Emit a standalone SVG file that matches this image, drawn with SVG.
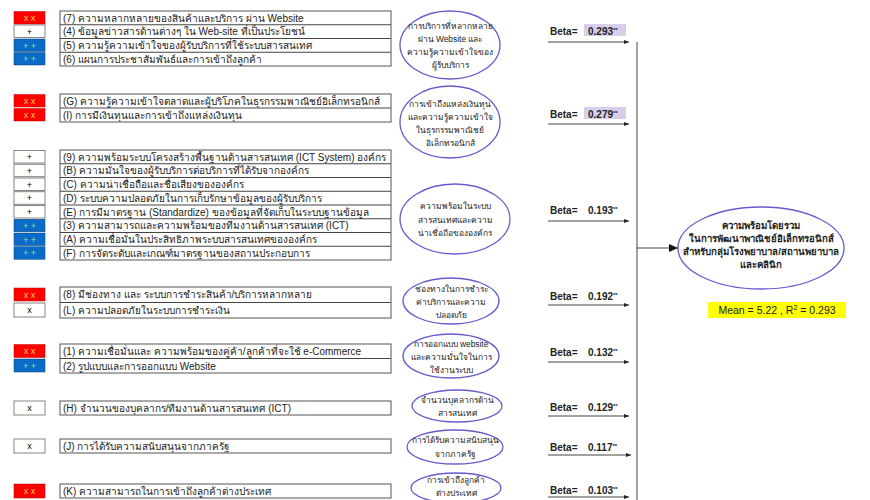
<svg xmlns="http://www.w3.org/2000/svg" width="870" height="500" viewBox="0 0 870 500">
<defs>
<style>
.t{font-family:"Liberation Sans","Noto Sans",sans-serif;font-size:10px;fill:#222}
.tb{font-family:"Liberation Sans","Noto Sans",sans-serif;font-size:10px;fill:#222;font-weight:bold}
.m{font-family:"Liberation Sans",sans-serif;font-size:9px;text-anchor:middle}
.box{fill:#fff;stroke:#555;stroke-width:1}
.red{fill:#ff0000;stroke:#b00;stroke-width:0.5}
.blue{fill:#0a6cc8;stroke:#05407a;stroke-width:0.5}
.wht{fill:#fff;stroke:#666;stroke-width:0.8}
.el{fill:#fff;stroke:#6a5acd;stroke-width:1.3}
.ec{font-family:"Liberation Sans","Noto Sans",sans-serif;font-size:8.4px;text-anchor:middle;fill:#222}
.ecb{font-family:"Liberation Sans","Noto Sans",sans-serif;font-size:9.6px;text-anchor:middle;fill:#222;font-weight:bold}
.ln{stroke:#444;stroke-width:1;fill:none}
</style>
<marker id="ah" markerWidth="6" markerHeight="6" refX="5" refY="3" orient="auto" markerUnits="userSpaceOnUse"><path d="M0,1 L5,3 L0,5 z" fill="#222"/></marker>
<marker id="ah2" markerWidth="10" markerHeight="10" refX="9" refY="5" orient="auto" markerUnits="userSpaceOnUse"><path d="M0,1 L9,5 L0,9 z" fill="#111"/></marker>
</defs>

<!-- Group 1 -->
<g id="g1">
<rect class="red" x="14" y="11.5" width="31" height="12.5"/><text class="m" x="29.5" y="21" fill="#ffd040">x x</text>
<rect class="wht" x="14" y="25" width="31" height="12.5"/><text class="m" x="29.5" y="34.5" fill="#000">+</text>
<rect class="blue" x="14" y="39" width="31" height="12.5"/><text class="m" x="29.5" y="48.5" fill="#9fe080">+ +</text>
<rect class="blue" x="14" y="52.5" width="31" height="12.5"/><text class="m" x="29.5" y="62" fill="#9fe080">+ +</text>
<rect class="box" x="60" y="11" width="331" height="55"/>
<line class="ln" x1="60" y1="24.75" x2="391" y2="24.75"/><line class="ln" x1="60" y1="38.5" x2="391" y2="38.5"/><line class="ln" x1="60" y1="52.25" x2="391" y2="52.25"/>
<text class="t" x="63" y="21.5">(7) ความหลากหลายของสินค้าและบริการ ผ่าน Website</text>
<text class="t" x="63" y="35">(4) ข้อมูลข่าวสารด้านต่างๆ ใน Web-site ที่เป็นประโยชน์</text>
<text class="t" x="63" y="49">(5) ความรู้ความเข้าใจของผู้รับบริการที่ใช้ระบบสารสนเทศ</text>
<text class="t" x="63" y="62.5">(6) แผนการประชาสัมพันธ์และการเข้าถึงลูกค้า</text>
</g>

<!-- Group 2 -->
<g id="g2">
<rect class="red" x="14" y="94.5" width="31" height="12.5"/><text class="m" x="29.5" y="104" fill="#ffd040">x x</text>
<rect class="red" x="14" y="108.5" width="31" height="12.5"/><text class="m" x="29.5" y="118" fill="#ffd040">x x</text>
<rect class="box" x="60" y="94" width="331" height="28"/>
<line class="ln" x1="60" y1="108" x2="391" y2="108"/>
<text class="t" x="63" y="104.5">(G) ความรู้ความเข้าใจตลาดและผู้บริโภคในธุรกรรมพาณิชย์อิเล็กทรอนิกส์</text>
<text class="t" x="63" y="118.5">(I) การมีเงินทุนและการเข้าถึงแหล่งเงินทุน</text>
</g>

<!-- Group 3 -->
<g id="g3">
<rect class="wht" x="14" y="150.5" width="31" height="12.5"/><text class="m" x="29.5" y="160" fill="#000">+</text>
<rect class="wht" x="14" y="164.25" width="31" height="12.5"/><text class="m" x="29.5" y="173.75" fill="#000">+</text>
<rect class="wht" x="14" y="178" width="31" height="12.5"/><text class="m" x="29.5" y="187.5" fill="#000">+</text>
<rect class="wht" x="14" y="191.75" width="31" height="12.5"/><text class="m" x="29.5" y="201.25" fill="#000">+</text>
<rect class="wht" x="14" y="205.5" width="31" height="12.5"/><text class="m" x="29.5" y="215" fill="#000">+</text>
<rect class="blue" x="14" y="219.25" width="31" height="12.5"/><text class="m" x="29.5" y="228.75" fill="#9fe080">+ +</text>
<rect class="blue" x="14" y="233" width="31" height="12.5"/><text class="m" x="29.5" y="242.5" fill="#9fe080">+ +</text>
<rect class="blue" x="14" y="246.75" width="31" height="12.5"/><text class="m" x="29.5" y="256.25" fill="#9fe080">+ +</text>
<rect class="box" x="60" y="150" width="331" height="110"/>
<line class="ln" x1="60" y1="163.75" x2="391" y2="163.75"/><line class="ln" x1="60" y1="177.5" x2="391" y2="177.5"/><line class="ln" x1="60" y1="191.25" x2="391" y2="191.25"/><line class="ln" x1="60" y1="205" x2="391" y2="205"/><line class="ln" x1="60" y1="218.75" x2="391" y2="218.75"/><line class="ln" x1="60" y1="232.5" x2="391" y2="232.5"/><line class="ln" x1="60" y1="246.25" x2="391" y2="246.25"/>
<text class="t" x="63" y="160.5">(9) ความพร้อมระบบโครงสร้างพื้นฐานด้านสารสนเทศ (ICT System) องค์กร</text>
<text class="t" x="63" y="174.25">(B) ความมั่นใจของผู้รับบริการต่อบริการที่ได้รับจากองค์กร</text>
<text class="t" x="63" y="188">(C) ความน่าเชื่อถือและชื่อเสียงขององค์กร</text>
<text class="t" x="63" y="201.75">(D) ระบบความปลอดภัยในการเก็บรักษาข้อมูลของผู้รับบริการ</text>
<text class="t" x="63" y="215.5">(E) การมีมาตรฐาน (Standardize) ของข้อมูลที่จัดเก็บในระบบฐานข้อมูล</text>
<text class="t" x="63" y="229.25">(3) ความสามารถและความพร้อมของทีมงานด้านสารสนเทศ (ICT)</text>
<text class="t" x="63" y="243">(A) ความเชื่อมั่นในประสิทธิภาพระบบสารสนเทศขององค์กร</text>
<text class="t" x="63" y="256.75">(F) การจัดระดับและเกณฑ์มาตรฐานของสถานประกอบการ</text>
</g>

<!-- Group 4 -->
<g id="g4">
<rect class="red" x="14" y="288" width="31" height="13"/><text class="m" x="29.5" y="297.5" fill="#ffd040">x x</text>
<rect class="wht" x="14" y="303" width="31" height="14"/><text class="m" x="29.5" y="313" fill="#000">x</text>
<rect class="box" x="60" y="287" width="331" height="31"/>
<line class="ln" x1="60" y1="302.5" x2="391" y2="302.5"/>
<text class="t" x="63" y="298">(8) มีช่องทาง และ ระบบการชำระสินค้า/บริการหลากหลาย</text>
<text class="t" x="63" y="313.5">(L) ความปลอดภัยในระบบการชำระเงิน</text>
</g>

<!-- Group 5 -->
<g id="g5">
<rect class="red" x="14" y="344.5" width="31" height="13"/><text class="m" x="29.5" y="354" fill="#ffd040">x x</text>
<rect class="blue" x="14" y="359" width="31" height="13"/><text class="m" x="29.5" y="368.5" fill="#9fe080">+ +</text>
<rect class="box" x="60" y="344" width="331" height="29"/>
<line class="ln" x1="60" y1="358.5" x2="391" y2="358.5"/>
<text class="t" x="63" y="355">(1) ความเชื่อมั่นและ ความพร้อมของคู่ค้า/ลูกค้าที่จะใช้ e-Commerce</text>
<text class="t" x="63" y="369.5">(2) รูปแบบและการออกแบบ Website</text>
</g>

<g id="g6">
<rect class="wht" x="14" y="401" width="31" height="14"/><text class="m" x="29.5" y="411" fill="#000">x</text>
<rect class="box" x="60" y="401" width="331" height="14"/>
<text class="t" x="63" y="411.5">(H) จำนวนของบุคลากร/ทีมงานด้านสารสนเทศ (ICT)</text>
</g>
<g id="g7">
<rect class="wht" x="14" y="439" width="31" height="14"/><text class="m" x="29.5" y="449" fill="#000">x</text>
<rect class="box" x="60" y="439" width="331" height="14"/>
<text class="t" x="63" y="449.5">(J) การได้รับความสนับสนุนจากภาครัฐ</text>
</g>
<g id="g8">
<rect class="red" x="14" y="484" width="31" height="14"/><text class="m" x="29.5" y="494" fill="#ffd040">x x</text>
<rect class="box" x="60" y="484" width="331" height="14"/>
<text class="t" x="63" y="494.5">(K) ความสามารถในการเข้าถึงลูกค้าต่างประเทศ</text>
</g>

<!-- Ellipses -->
<g id="e1"><ellipse class="el" cx="450" cy="45" rx="50" ry="34"/>
<text class="ec" x="450" y="29">การบริการที่หลากหลาย</text><text class="ec" x="450" y="42">ผ่าน Website และ</text><text class="ec" x="450" y="55">ความรู้ความเข้าใจของ</text><text class="ec" x="450" y="68">ผู้รับบริการ</text></g>
<g id="e2"><ellipse class="el" cx="450" cy="122" rx="50" ry="36"/>
<text class="ec" x="450" y="107">การเข้าถึงแหล่งเงินทุน</text><text class="ec" x="450" y="120">และความรู้ความเข้าใจ</text><text class="ec" x="450" y="133">ในธุรกรรมพาณิชย์</text><text class="ec" x="450" y="146">อิเล็กทรอนิกส์</text></g>
<g id="e3"><ellipse class="el" cx="455" cy="219" rx="55" ry="35"/>
<text class="ec" x="455" y="209">ความพร้อมในระบบ</text><text class="ec" x="455" y="223">สารสนเทศและความ</text><text class="ec" x="455" y="236">น่าเชื่อถือขององค์กร</text></g>
<g id="e4"><ellipse class="el" cx="451" cy="301" rx="48" ry="23"/>
<text class="ec" x="451" y="292">ช่องทางในการชำระ</text><text class="ec" x="451" y="305">ค่าบริการและความ</text><text class="ec" x="451" y="318">ปลอดภัย</text></g>
<g id="e5"><ellipse class="el" cx="451" cy="356" rx="48" ry="22"/>
<text class="ec" x="451" y="347">การออกแบบ website</text><text class="ec" x="451" y="360">และความมั่นใจในการ</text><text class="ec" x="451" y="373">ใช้งานระบบ</text></g>
<g id="e6"><ellipse class="el" cx="457" cy="406" rx="45" ry="16"/>
<text class="ec" x="457" y="403">จำนวนบุคลากรด้าน</text><text class="ec" x="457" y="416">สารสนเทศ</text></g>
<g id="e7"><ellipse class="el" cx="455" cy="447" rx="48" ry="17"/>
<text class="ec" x="455" y="443">การได้รับความสนับสนุน</text><text class="ec" x="455" y="457">จากภาครัฐ</text></g>
<g id="e8"><ellipse class="el" cx="456" cy="488" rx="45" ry="15"/>
<text class="ec" x="456" y="483">การเข้าถึงลูกค้า</text><text class="ec" x="456" y="496">ต่างประเทศ</text></g>

<!-- Target -->
<g id="target"><ellipse class="el" cx="761" cy="248" rx="83" ry="41"/>
<text class="ecb" x="761" y="229">ความพร้อมโดยรวม</text><text class="ecb" x="761" y="242">ในการพัฒนาพาณิชย์อิเล็กทรอนิกส์</text><text class="ecb" x="761" y="255">สำหรับกลุ่มโรงพยาบาล/สถานพยาบาล</text><text class="ecb" x="761" y="268">และคลินิก</text></g>
<g id="stat"><rect x="708" y="302" width="138" height="16" fill="#ffff00"/>
<text x="777" y="314" font-family="Liberation Sans, sans-serif" font-size="10.5" text-anchor="middle" fill="#222">Mean = 5.22 ,  R<tspan font-size="7" dy="-4">2</tspan><tspan dy="4"> = 0.293</tspan></text></g>

<!-- Beta labels -->
<g id="labels">
<rect x="584" y="24" width="42" height="12" fill="#d8cdea"/>
<rect x="584" y="107" width="42" height="12" fill="#d8cdea"/>
<text class="tb" x="550" y="35">Beta=</text><text class="t" x="588" y="35" font-weight="bold" font-size="9.5">0.293<tspan font-size="6" dy="-3">**</tspan></text>
<text class="tb" x="550" y="118">Beta=</text><text class="t" x="588" y="118" font-weight="bold" font-size="9.5">0.279<tspan font-size="6" dy="-3">**</tspan></text>
<text class="tb" x="550" y="214">Beta=</text><text class="t" x="588" y="214" font-weight="bold" font-size="9.5">0.193<tspan font-size="6" dy="-3">**</tspan></text>
<text class="tb" x="550" y="300">Beta=</text><text class="t" x="588" y="300" font-weight="bold" font-size="9.5">0.192<tspan font-size="6" dy="-3">**</tspan></text>
<text class="tb" x="550" y="356">Beta=</text><text class="t" x="588" y="356" font-weight="bold" font-size="9.5">0.132<tspan font-size="6" dy="-3">**</tspan></text>
<text class="tb" x="550" y="411">Beta=</text><text class="t" x="588" y="411" font-weight="bold" font-size="9.5">0.129<tspan font-size="6" dy="-3">**</tspan></text>
<text class="tb" x="550" y="451">Beta=</text><text class="t" x="588" y="451" font-weight="bold" font-size="9.5">0.117<tspan font-size="6" dy="-3">**</tspan></text>
<text class="tb" x="550" y="494">Beta=</text><text class="t" x="588" y="494" font-weight="bold" font-size="9.5">0.103<tspan font-size="6" dy="-3">**</tspan></text>
</g>

<!-- Connectors -->
<g id="connectors">
<line class="ln" x1="548" y1="42" x2="629" y2="42" marker-end="url(#ah)"/>
<line class="ln" x1="548" y1="124" x2="629" y2="124" marker-end="url(#ah)"/>
<line class="ln" x1="548" y1="221" x2="629" y2="221" marker-end="url(#ah)"/>
<line class="ln" x1="548" y1="305" x2="629" y2="305" marker-end="url(#ah)"/>
<line class="ln" x1="548" y1="362" x2="629" y2="362" marker-end="url(#ah)"/>
<line class="ln" x1="548" y1="416" x2="629" y2="416" marker-end="url(#ah)"/>
<line class="ln" x1="548" y1="455" x2="631" y2="455" marker-end="url(#ah)"/>
<line class="ln" x1="548" y1="497" x2="629" y2="497" marker-end="url(#ah)"/>
<line class="ln" x1="637" y1="42" x2="637" y2="500"/>
<line class="ln" x1="637" y1="248" x2="678" y2="248" stroke-width="1.5" marker-end="url(#ah2)"/>
</g>
</svg>
